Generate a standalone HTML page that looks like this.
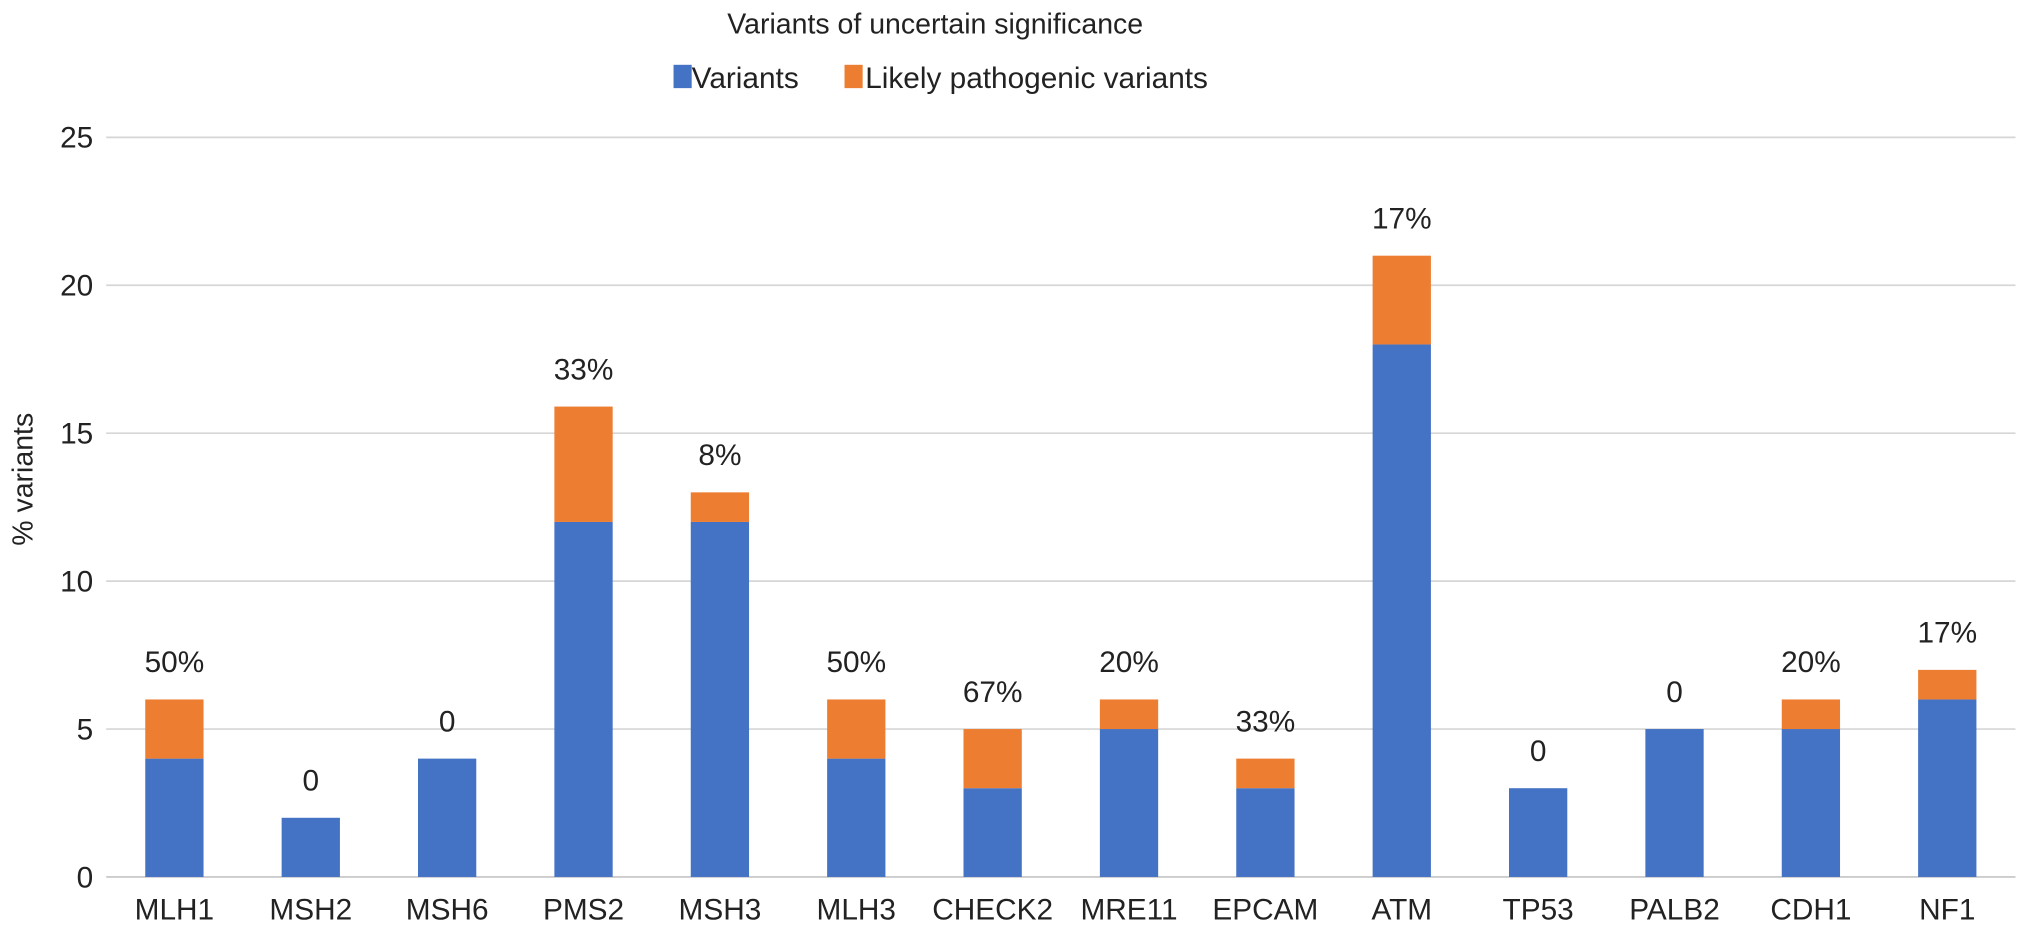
<!DOCTYPE html>
<html><head><meta charset="utf-8"><style>
html,body{margin:0;padding:0;background:#fff;overflow:hidden;}
svg text{font-family:"Liberation Sans",Arial,sans-serif;fill:#222;}
</style></head><body>
<svg id="chart" width="2031" height="934" viewBox="0 0 1568 721" xmlns="http://www.w3.org/2000/svg">
<text x="722" y="26" text-anchor="middle" font-size="22">Variants of uncertain significance</text>
<g>
<rect x="520" y="50" width="14" height="18" fill="#4472C4"/>
<text x="534" y="68" font-size="23">Variants</text>
<rect x="652" y="50" width="14" height="18" fill="#ED7D31"/>
<text x="668" y="68" font-size="23">Likely pathogenic variants</text>
</g>
<text transform="translate(25,370) rotate(-90)" text-anchor="middle" font-size="22">% variants</text>
<g id="grid"></g><g id="bars"></g><g id="labels"></g>
</svg>
<script>
const categories=["MLH1","MSH2","MSH6","PMS2","MSH3","MLH3","CHECK2","MRE11","EPCAM","ATM","TP53","PALB2","CDH1","NF1"];
const variants=[4,2,4,12,12,4,3,5,3,18,3,5,5,6];
const likelyPathogenic=[2,0,0,3.9,1,2,2,1,1,3,0,0,1,1];
const valueLabels=["50%","0","0","33%","8%","50%","67%","20%","33%","17%","0","0","20%","17%"];
const yTicks=[0,5,10,15,20,25];
const NS="http://www.w3.org/2000/svg";
const y0=677,y25=106,left=82,right=1556;
function yScale(v){return y0-(y0-y25)*v/25;}
const band=(right-left)/categories.length;
function xCenter(i){return left+band*(i+0.5);}
const bw=45;
function mk(tag,attrs,parent){const e=document.createElementNS(NS,tag);for(const k in attrs)e.setAttribute(k,attrs[k]);parent.appendChild(e);return e;}
const grid=document.getElementById('grid'),bars=document.getElementById('bars'),labels=document.getElementById('labels');
yTicks.forEach(t=>{
 const l=mk('line',{x1:left,x2:right,y1:yScale(t),y2:yScale(t),stroke:t===0?'#c4c4c4':'#d6d6d6','stroke-width':1.3},grid);
 
 
 const tx=mk('text',{x:72,y:yScale(t)+8,'text-anchor':'end','font-size':23},grid);
 tx.textContent=t;
 
 
});
categories.forEach((c,i)=>{
 const cx=xCenter(i);
 const b=mk('rect',{x:cx-bw/2,y:yScale(variants[i]),width:bw,height:yScale(0)-yScale(variants[i]),fill:'#4472C4'},bars);
 
 
 const top=variants[i]+likelyPathogenic[i];
 if(likelyPathogenic[i]>0){
  const o=mk('rect',{x:cx-bw/2,y:yScale(top),width:bw,height:yScale(variants[i])-yScale(top),fill:'#ED7D31'},bars);
  
  
 }
 const vl=mk('text',{x:cx,y:yScale(top)-21,'text-anchor':'middle','font-size':23},labels);
 vl.textContent=valueLabels[i];
 
 
 const xl=mk('text',{x:cx,y:710,'text-anchor':'middle','font-size':23},labels);
 xl.textContent=c;
 
 
});
</script>
</body></html>
